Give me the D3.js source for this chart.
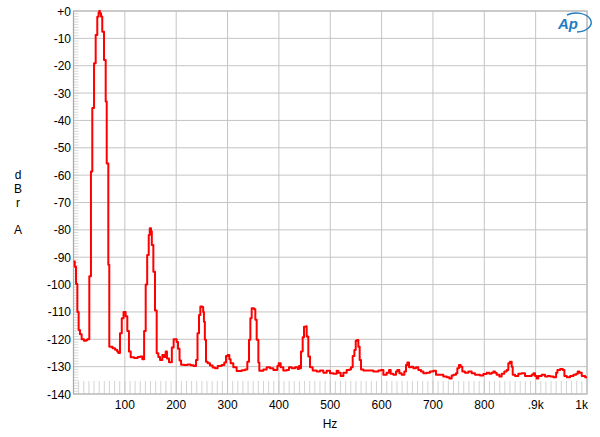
<!DOCTYPE html>
<html><head><meta charset="utf-8">
<script src="https://cdn.jsdelivr.net/npm/d3@7"></script>
<style>
html,body{margin:0;padding:0;background:#fff;}
svg{display:block;font-family:"Liberation Sans",Arial,sans-serif;}
</style></head>
<body><svg id="c" width="600" height="437"></svg>
<script>
// Spectrum data (Hz, dBrA)
const freqs = [0,2.5,4.9,7.5,10,12.6,15.9,20.4,25,27,30.8,34,36.6,40,43.2,46.3,48.8,50,51.3,53.5,56,59.4,62.7,64.7,67.8,69.7,76,81,85,87.2,90.5,94,97.5,101.5,104.8,108,111.4,118,125,130,134,137.5,140.6,143.5,146.5,148.5,151,152.5,155.5,158.7,162,165.2,168.5,173,176.5,179.5,182,186,191.5,195,201,203.5,206.5,209.5,215,222,228,234,238.6,241.5,244.4,247,250.5,252.5,254,255.8,258,261.3,265.8,271,275.6,280.8,288.5,293.7,297,300.2,303.5,306,311.2,317.7,327.5,334,338.5,341.8,344.4,347,351.5,354.1,356.7,360,361.9,369.7,376.2,382.7,389.2,397,399.6,403.5,408.6,415.2,419.7,424.9,431.4,436.6,439.2,441.2,443,446.3,448.9,452.8,454.1,457.3,460.6,465.8,473.5,480,486.5,493,499.5,506,512.5,515.8,520.3,525.5,532,537.2,540.4,543.7,547,549.6,552.1,554.7,557.3,559.9,564.5,574.2,583.9,593.6,598.9,603.4,609.9,614.5,617.7,622.9,628.1,630.7,634.6,639.1,644.3,647.5,650.1,653.4,657.3,661.8,667,671.5,676.7,681.3,687.7,694.2,700.7,705.9,713.7,720.2,726.7,731.9,736.4,740,744.9,747.5,750.7,754,757.2,762.4,768.9,775.4,781.9,791.6,798.1,804.6,809.8,814.3,817.6,820.8,824.1,829.3,833.8,839,843.6,846.8,850,853.3,855.3,859.8,866.3,872.8,879.3,885.8,892.3,895.6,898.8,902.1,905.3,911.8,918.3,923.5,928.1,934.6,939.8,942.4,947.6,952.8,956,960.6,967.1,973.6,978.8,982,985.3,989.8,996.3,1000];
const levels = [-91.6,-93.5,-99.8,-110,-116.6,-118.2,-120,-120.5,-120.3,-120,-97,-58.7,-35.5,-19.1,-8.8,-2.1,-0.6,0,-0.8,-2,-7.6,-17.9,-33.1,-55.7,-92.8,-122.7,-123.3,-123.8,-124.5,-125,-117.8,-112.3,-110,-111.6,-117,-124.5,-126.6,-126.8,-126.5,-126.3,-127.3,-117,-100,-89.2,-81.9,-79.4,-80.5,-85.5,-95.3,-109.5,-125.1,-126.5,-127.6,-125.7,-126.5,-124.5,-127,-128.4,-123,-120,-121,-123.5,-127.8,-129.3,-129.4,-129.2,-129.5,-129.8,-127.6,-117.8,-111.1,-108,-108.2,-110,-113.6,-120.2,-128.2,-128.8,-129.6,-130.3,-130.6,-129.8,-129.4,-128.5,-126.1,-125.7,-127.3,-128.8,-130.2,-131.6,-131.3,-131,-128.2,-120.2,-112.3,-108.7,-109,-112.9,-120.2,-128.5,-131.5,-131,-130.2,-130.6,-131.2,-129.8,-128.8,-130.2,-131.4,-131.2,-130.2,-130.6,-130.2,-130.9,-129.8,-130.6,-124.5,-119.3,-115.4,-115.2,-119,-126.3,-130.2,-131.4,-131.8,-131.4,-132.2,-131.5,-132.4,-132.6,-131.5,-132.2,-133.4,-132.2,-131.2,-131,-130.2,-126.1,-123.9,-120.5,-120.3,-122.7,-127.6,-131,-131.4,-131.4,-131.8,-131.4,-131.2,-133,-132.2,-131.2,-132.6,-133,-131.8,-131.2,-132.4,-133,-131.8,-129.4,-128.5,-130.2,-130,-130.6,-130.2,-131.2,-131.8,-132.4,-132.2,-131.8,-131.5,-133,-133,-133.6,-133.9,-134.3,-133.2,-133,-132.4,-130.6,-129.4,-130,-131.8,-132.2,-131.8,-132.4,-133,-133.2,-132.7,-132.2,-132.6,-132.2,-131.8,-132.2,-133,-133.6,-132.6,-131.8,-131.2,-128.8,-128.2,-130,-133,-133.4,-132.6,-132.4,-133.4,-133.4,-133,-132.4,-133.4,-134.3,-133.4,-133,-133.6,-133.4,-133.6,-133.9,-132.2,-131.2,-130.9,-131.2,-133.4,-133.9,-133.4,-133,-132.6,-131.8,-132.2,-133.4,-133.9,-133.9];
const xTicks = [100,200,300,400,500,600,700,800,900,1000];
const xTickLabels = ["100","200","300","400","500","600","700","800",".9k","1k"];
const yTicks = [0,-10,-20,-30,-40,-50,-60,-70,-80,-90,-100,-110,-120,-130,-140];
const yTickLabels = ["+0","-10","-20","-30","-40","-50","-60","-70","-80","-90","-100","-110","-120","-130","-140"];
const yTitle = ["d","B","r","A"];
const xTitle = "Hz";

const svg = d3.select("#c");
const L = 73.5, R = 587, T = 11, B = 394;
const x = d3.scaleLinear().domain([0,1000]).range([L,R]);
const y = d3.scaleLinear().domain([0,-140]).range([T,B]);
const gridC = "#c4c4c4";

// minor ticks left (every 1 dB)
const g = svg.append("g");
g.selectAll("line.ml").data(d3.range(0,-141,-1)).join("line")
  .attr("x1",L).attr("x2",L+5).attr("y1",d=>y(d)).attr("y2",d=>y(d))
  .attr("stroke","#cfcfcf").attr("stroke-width",0.8);
// minor ticks bottom (every 10 Hz)
g.selectAll("line.mb").data(d3.range(10,1000,10)).join("line")
  .attr("x1",d=>x(d)).attr("x2",d=>x(d)).attr("y1",B-13).attr("y2",B)
  .attr("stroke","#c8c8c8").attr("stroke-width",0.8);
// grid
g.selectAll("line.gh").data(yTicks).join("line")
  .attr("x1",L).attr("x2",R).attr("y1",d=>y(d)).attr("y2",d=>y(d))
  .attr("stroke",gridC).attr("stroke-width",1);
g.selectAll("line.gv").data(xTicks).join("line")
  .attr("x1",d=>x(d)).attr("x2",d=>x(d)).attr("y1",T).attr("y2",B)
  .attr("stroke",gridC).attr("stroke-width",1);
svg.append("rect").attr("x",L).attr("y",T).attr("width",R-L).attr("height",B-T)
  .attr("fill","none").attr("stroke","#bdbdbd").attr("stroke-width",1.3);
svg.append("line").attr("x1",L).attr("x2",L).attr("y1",T).attr("y2",B).attr("stroke","#a8a8a8").attr("stroke-width",1);

// axis labels
svg.append("g").selectAll("text").data(yTicks).join("text")
  .attr("x",71).attr("y",d=>y(d)+4.5).attr("text-anchor","end")
  .attr("font-size",12).attr("fill","#000").text((d,i)=>yTickLabels[i]);
svg.append("g").selectAll("text").data(xTicks).join("text")
  .attr("x",d=>d===1000? R+1 : x(d)).attr("y",409)
  .attr("text-anchor",d=>d===1000?"end":"middle")
  .attr("font-size",12).attr("fill","#000").text((d,i)=>xTickLabels[i]);
svg.append("text").attr("x",330).attr("y",428).attr("text-anchor","middle")
  .attr("font-size",12).text(xTitle);
const ty = [179,193,207,234];
svg.append("g").selectAll("text").data(yTitle).join("text")
  .attr("x",18).attr("y",(d,i)=>ty[i]).attr("text-anchor","middle")
  .attr("font-size",12).text(d=>d);

// data line
const pts = freqs.map((f,i)=>[f,levels[i]]);
const line = d3.line().x(d=>x(d[0])).y(d=>y(d[1])).curve(d3.curveStepAfter);
svg.append("path").datum(pts).attr("d",line).attr("fill","none")
  .attr("stroke","#ff0000").attr("stroke-width",2).attr("stroke-linejoin","round");

// AP logo
const logo = svg.append("g").attr("transform","translate(569,24)");
logo.append("path").attr("d","M -2 -9 A 15 9.5 0 1 1 8 8").attr("fill","none")
  .attr("stroke","#1f7cc1").attr("stroke-width",1.4);
logo.append("text").attr("x",-1).attr("y",5).attr("text-anchor","middle")
  .attr("font-size",15).attr("font-style","italic").attr("font-weight","bold")
  .attr("fill","#1f7cc1").text("Ap");
</script></body></html>
